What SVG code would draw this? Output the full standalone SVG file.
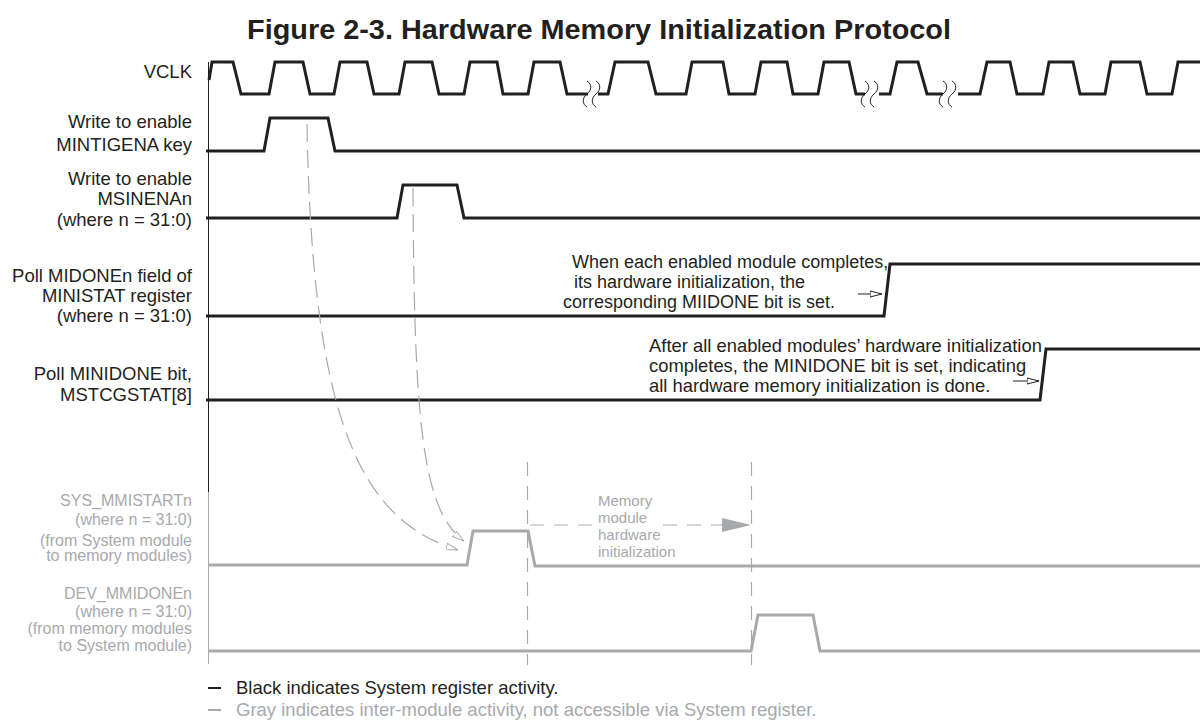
<svg xmlns="http://www.w3.org/2000/svg" width="1200" height="721" viewBox="0 0 1200 721">
<style>
text{font-family:"Liberation Sans",Arial,sans-serif;fill:#231f20}
.lbl{font-size:18.5px;text-anchor:end}
.glbl{font-size:16px;text-anchor:end;fill:#a7a9ac}
.ann{font-size:18px}
.ann2{font-size:18.4px}
.gtxt{font-size:15px;fill:#a7a9ac}
.leg{font-size:18.5px}
.title{font-size:28px;font-weight:bold;text-anchor:middle}
.wave{fill:none;stroke:#231f20;stroke-width:3;stroke-linejoin:miter}
.gwave{fill:none;stroke:#a7a9ac;stroke-width:3}
.sq{fill:none;stroke:#231f20;stroke-width:1}
.dcurve{fill:none;stroke:#a7a9ac;stroke-width:1.2;stroke-dasharray:18 8}
.dvert{fill:none;stroke:#a7a9ac;stroke-width:1.2;stroke-dasharray:14 10}
</style>
<defs>
<marker id="openG" viewBox="0 0 12 8" refX="12" refY="4" markerWidth="12" markerHeight="8" markerUnits="userSpaceOnUse" orient="auto">
<path d="M0,0.8 L12,4 L0,7.2 Z" fill="#fff" stroke="#a7a9ac" stroke-width="1" stroke-dasharray="none"/>
</marker>
<marker id="openB" viewBox="0 0 12 8" refX="12" refY="4" markerWidth="12" markerHeight="8" markerUnits="userSpaceOnUse" orient="auto">
<path d="M0,1 L12,4 L0,7 Z" fill="#fff" stroke="#231f20" stroke-width="1"/>
</marker>
</defs>
<rect width="1200" height="721" fill="#fff"/>

<text class="title" x="599" y="39" textLength="704" lengthAdjust="spacingAndGlyphs">Figure 2-3. Hardware Memory Initialization Protocol</text>

<g id="axis">
<line x1="208.5" y1="62" x2="208.5" y2="492" stroke="#231f20" stroke-width="1"/>
<line x1="208.5" y1="492" x2="208.5" y2="664" stroke="#a7a9ac" stroke-width="1"/>
</g>

<g id="vclk">
<text class="lbl" x="192" y="78">VCLK</text>
<path class="wave" d="M209,80 L212,62 L233,62 L241,94 L269,94 L275,62 L303,62 L310,94 L334,94 L340,62 L367,62 L374,94 L399,94 L405,62 L432,62 L439,94 L464,94 L470,62 L497,62 L503,94 L528,94 L534,62 L560,62 L567,94 L588,94"/>
<path class="wave" d="M598,94 L608,94 L615,62 L648,62 L656,94 L686,94 L692,62 L723,62 L729,94 L755,94 L761,62 L787,62 L793,94 L818,94 L824,62 L849,62 L856,94 L865,94"/>
<path class="wave" d="M879,94 L890,94 L897,62 L918,62 L927,94 L943,94"/>
<path class="wave" d="M958,94 L980,94 L987,62 L1010,62 L1017,94 L1043,94 L1049,62 L1073,62 L1080,94 L1105,94 L1111,62 L1140,62 L1147,94 L1172,94 L1178,62 L1200,62"/>
<path class="sq" d="M587,81 c5,3 5,9 0,13 c-5,4 -5,10 0,13"/>
<path class="sq" d="M596,81 c5,3 5,9 0,13 c-5,4 -5,10 0,13"/>
<path class="sq" d="M865,81 c5,3 5,9 0,13 c-5,4 -5,10 0,13"/>
<path class="sq" d="M874,81 c5,3 5,9 0,13 c-5,4 -5,10 0,13"/>
<path class="sq" d="M943,81 c5,3 5,9 0,13 c-5,4 -5,10 0,13"/>
<path class="sq" d="M952,81 c5,3 5,9 0,13 c-5,4 -5,10 0,13"/>
</g>

<g id="mintigena">
<text class="lbl" x="192" y="128">Write to enable</text>
<text class="lbl" x="192" y="151">MINTIGENA key</text>
<path class="wave" d="M206,151 L264,151 L270,118 L328,118 L335,151 L1200,151"/>
</g>

<g id="msinena">
<text class="lbl" x="192" y="185">Write to enable</text>
<text class="lbl" x="192" y="205">MSINENAn</text>
<text class="lbl" x="192" y="226">(where n = 31:0)</text>
<path class="wave" d="M206,218 L397,218 L403,185 L457,185 L464,218 L1200,218"/>
</g>

<g id="midone">
<text class="lbl" x="192" y="282">Poll MIDONEn field of</text>
<text class="lbl" x="192" y="302">MINISTAT register</text>
<text class="lbl" x="192" y="322">(where n = 31:0)</text>
<path class="wave" d="M206,316 L884,316 L890,264 L1200,264"/>
<text class="ann" x="572" y="268">When each enabled module completes,</text>
<text class="ann" x="574" y="288">its hardware initialization, the</text>
<text class="ann" x="563" y="308">corresponding MIIDONE bit is set.</text>
<line x1="858" y1="294" x2="882" y2="294" stroke="#231f20" stroke-width="1" marker-end="url(#openB)"/>
</g>

<g id="minidone">
<text class="lbl" x="192" y="380">Poll MINIDONE bit,</text>
<text class="lbl" x="192" y="401">MSTCGSTAT[8]</text>
<path class="wave" d="M206,400 L1040,400 L1046,349 L1200,349"/>
<text class="ann2" x="649" y="352">After all enabled modules’ hardware initialization</text>
<text class="ann2" x="649" y="372">completes, the MINIDONE bit is set, indicating</text>
<text class="ann2" x="649" y="392">all hardware memory initialization is done.</text>
<line x1="1013" y1="381" x2="1039" y2="381" stroke="#231f20" stroke-width="1" marker-end="url(#openB)"/>
</g>

<g id="sys_mmistart">
<text class="glbl" x="192" y="506">SYS_MMISTARTn</text>
<text class="glbl" x="192" y="525">(where n = 31:0)</text>
<text class="glbl" x="192" y="546">(from System module</text>
<text class="glbl" x="192" y="561">to memory modules)</text>
<path class="gwave" d="M208,565 L467,565 L473,531 L528,531 L535,566 L1200,566"/>
</g>

<g id="dev_mmidone">
<text class="glbl" x="192" y="599">DEV_MMIDONEn</text>
<text class="glbl" x="192" y="617">(where n = 31:0)</text>
<text class="glbl" x="192" y="634">(from memory modules</text>
<text class="glbl" x="192" y="651">to System module)</text>
<path class="gwave" d="M208,651 L751,651 L758,615 L813,615 L820,651 L1200,651"/>
</g>

<g id="mem_init">
<text class="gtxt" x="598" y="506">Memory</text>
<text class="gtxt" x="598" y="523">module</text>
<text class="gtxt" x="598" y="540">hardware</text>
<text class="gtxt" x="598" y="557">initialization</text>
</g>

<g id="connectors">
<path class="dcurve" d="M307,124 C312,420 360,520 458,550" marker-end="url(#openG)"/>
<path class="dcurve" d="M413,188 C414,420 422,510 464,541" marker-end="url(#openG)"/>
<line class="dvert" x1="527.5" y1="462" x2="527.5" y2="665"/>
<line class="dvert" x1="751.5" y1="462" x2="751.5" y2="665"/>
<path class="dvert" d="M530,525 H594"/>
<path class="dvert" d="M663,525 H724"/>
<polygon points="722,518 751,525 722,532" fill="#a7a9ac"/>
</g>

<g id="legend">
<line x1="208" y1="688" x2="221" y2="688" stroke="#231f20" stroke-width="2"/>
<text class="leg" x="236" y="694">Black indicates System register activity.</text>
<line x1="208" y1="710" x2="221" y2="710" stroke="#a7a9ac" stroke-width="2"/>
<text class="leg" x="236" y="716" style="fill:#a7a9ac">Gray indicates inter-module activity, not accessible via System register.</text>
</g>
</svg>
